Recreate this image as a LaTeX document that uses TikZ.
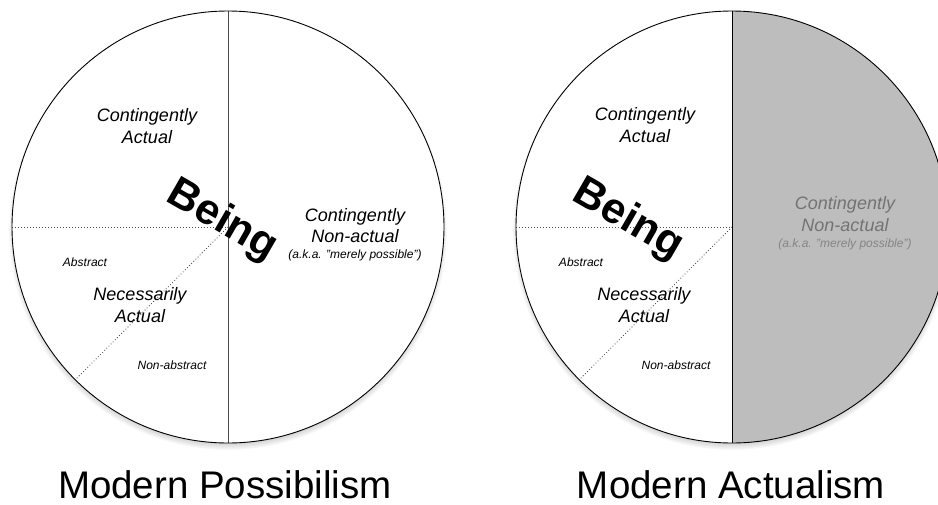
\documentclass[tikz,border=0pt]{standalone}
\usepackage{fontspec}
\setmainfont{Liberation Sans}
\definecolor{halfgrey}{HTML}{BDBDBD}
\definecolor{greytext}{HTML}{737373}
\definecolor{greysmall}{HTML}{858585}
\definecolor{divline}{HTML}{4A4A4A}
\begin{document}
\begin{tikzpicture}[x=1pt,y=1pt,
  disc/.style={circle, minimum size=432pt, inner sep=0pt, outer sep=0pt, fill=white},
  rim/.style={draw=black, line width=0.9pt},
  divider/.style={draw=divline, line width=0.9pt},
  dotline/.style={draw=black!70, line width=0.8pt, dash pattern=on 0.8pt off 2.2pt},
  bigit/.style={font=\fontsize{18}{21.5}\selectfont\itshape, align=center, inner sep=0pt},
  smallit/.style={font=\fontsize{12}{14}\selectfont\itshape, inner sep=0pt},
  beinglbl/.style={font=\fontsize{43}{46}\selectfont\bfseries, rotate=-30, inner sep=0pt},
  title/.style={font=\fontsize{38.5}{40}\selectfont, anchor=base, inner sep=0pt}]
\useasboundingbox (0,0) rectangle (938,-504);
% soft shadows
\foreach \cx in {228,732}{
  \foreach \i in {1,...,9}{
    \fill[black, opacity=0.03] (\cx,-231) circle[radius={(208+\i*1.2)*1pt}];
  }
}
% discs
\node[disc] (L) at (228,-227) {};
\node[disc] (R) at (732,-227) {};
% grey half of the right disc
\fill[halfgrey] (R.north) arc[start angle=90, end angle=-90, radius=216pt] -- cycle;
% dotted dividers
\draw[dotline] (L.west) -- (L.center);
\draw[dotline] (L.center) -- (L.225);
\draw[dotline] (R.west) -- (R.center);
\draw[dotline] (R.center) -- (R.225);
% vertical dividers
\draw[divider] (L.north) -- (L.south);
\draw[rim] (R.north) -- (R.south);
% outlines
\draw[rim] (L.center) circle[radius=216pt];
\draw[rim] (R.center) circle[radius=216pt];
% left disc texts
\node[bigit] (lca) at (147,-126) {Contingently\\Actual};
\node[beinglbl] (lbe) at (222,-221) {Being};
\node[bigit] (lcn) at (355,-225.5) {Contingently\\Non-actual};
\node[smallit, anchor=base] (laka) at (355,-258) {(a.k.a. "merely possible")};
\node[smallit] (lab) at (85,-262) {Abstract};
\node[bigit] (lna) at (140,-305) {Necessarily\\Actual};
\node[smallit] (lnab) at (172,-365) {Non-abstract};
% right disc texts
\node[bigit] (rca) at (645,-125) {Contingently\\Actual};
\node[beinglbl] (rbe) at (628,-220) {Being};
\node[bigit, text=greytext] (rcn) at (845,-214) {Contingently\\Non-actual};
\node[smallit, anchor=base, text=greysmall] (raka) at (845,-247) {(a.k.a. "merely possible")};
\node[smallit] (rab) at (581,-262) {Abstract};
\node[bigit] (rna) at (644,-305) {Necessarily\\Actual};
\node[smallit] (rnab) at (676,-365) {Non-abstract};
% titles
\node[title] (tl) at (225,-498) {Modern Possibilism};
\node[title] (tr) at (731,-498) {Modern Actualism};
\end{tikzpicture}
\end{document}
